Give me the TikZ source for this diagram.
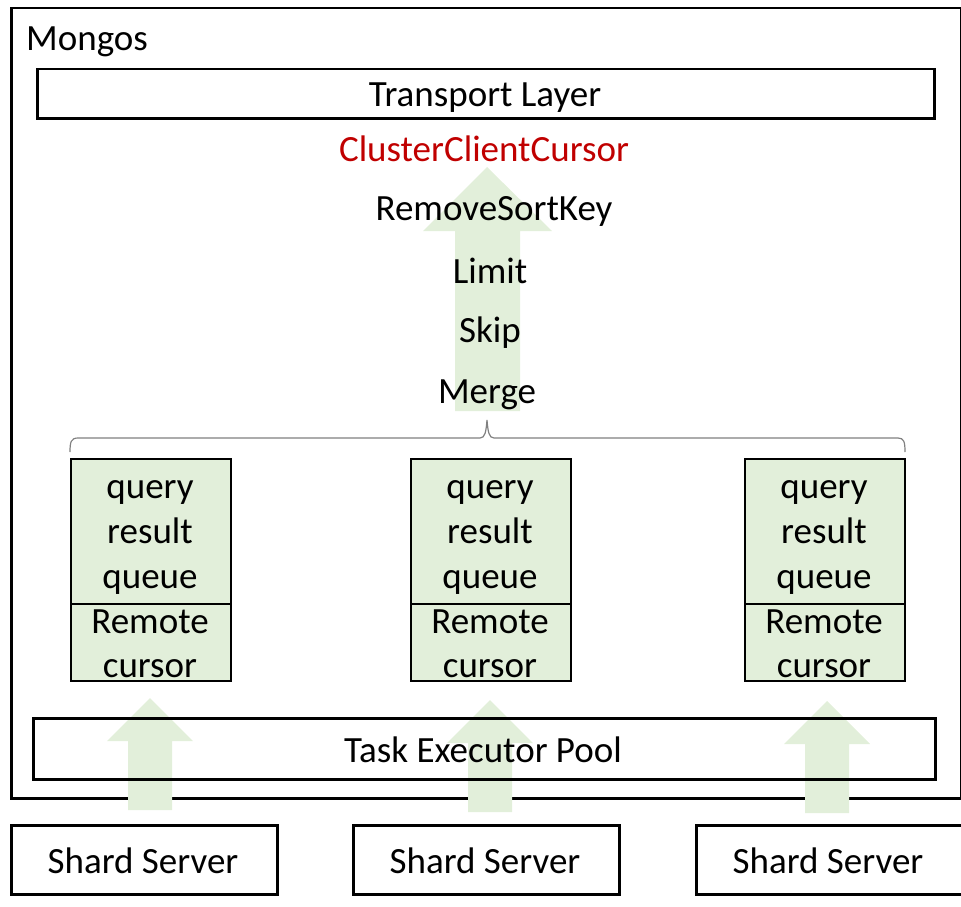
\documentclass[tikz,border=0pt]{standalone}
\usepackage{fontspec}
\setmainfont{Carlito}
\definecolor{lgreen}{HTML}{E2EFDA}
\definecolor{dred}{HTML}{C00000}
\definecolor{bracegray}{HTML}{808080}
\begin{document}
\begin{tikzpicture}[x=1pt,y=-1pt,
  box/.style={draw=black, line width=2.5pt, inner sep=0pt, anchor=north west},
  qbox/.style={box, fill=lgreen, line width=2pt},
  lbl/.style={font=\fontsize{37}{45}\selectfont, inner sep=0pt, align=center},
  fatarrow/.style={fill=lgreen, draw=none}]
\useasboundingbox (0,0) rectangle (961,907);

% outer Mongos box
\node[box, minimum width=950, minimum height=790] (mongos) at (10,7) {};
\node[lbl, anchor=west] (mongoslbl) at (26,42) {Mongos};

% transport layer
\node[box, minimum width=897, minimum height=49] (transport) at (36,68) {};
\node[lbl] (transportlbl) at (485,98) {Transport Layer};

% big arrow
\fill[fatarrow] (455,411) -- (455,231) -- (423,231) -- (487,167) -- (552,231) -- (520,231) -- (520,411) -- cycle;

\node[lbl, text=dred] (ccc) at (484,149) {ClusterClientCursor};
\node[lbl] (rsk) at (494,211) {RemoveSortKey};
\node[lbl] (limit) at (490,271) {Limit};
\node[lbl] (skip) at (490,333) {Skip};
\node[lbl] (merge) at (487,395) {Merge};

% brace
\draw[bracegray, line width=1.2pt] (70,452) .. controls (70,442) and (71,438) .. (78,438)
  -- (480,438) .. controls (485,438) and (486,432) .. (487,420)
  .. controls (488,432) and (489,438) .. (494,438) -- (898,438)
  .. controls (904,438) and (905,442) .. (905,452);

% queue boxes
\foreach \n/\x in {a/70,b/410,c/744}{
  \node[qbox, minimum width=160, minimum height=145] (q\n) at (\x,458) {};
  \node[qbox, minimum width=160, minimum height=77] (r\n) at (\x,603) {};
  \node[lbl] (q\n lbl) at (\x+80,537) {query\\result\\queue};
  \node[lbl, font=\fontsize{37}{44}\selectfont] (r\n lbl) at (\x+80,644) {Remote\\cursor};
}

% small arrows
\foreach \c/\t in {150/698,490/700,827/701}{
  \fill[fatarrow] (\c-22,\t+112) -- (\c-22,\t+43) -- (\c-43,\t+43) -- (\c,\t) -- (\c+43,\t+43) -- (\c+22,\t+43) -- (\c+22,\t+112) -- cycle;
}

% task executor pool
\node[box, minimum width=902, minimum height=61] (task) at (32,717) {};
\node[lbl] (tasklbl) at (483,750) {Task Executor Pool};

% shard servers
\foreach \n/\x in {a/10,b/352,c/695}{
  \node[box, minimum width=266, minimum height=69] (s\n) at (\x,824) {};
  \node[lbl] (s\n lbl) at (\x+133,861) {Shard Server};
}
\end{tikzpicture}
\end{document}
